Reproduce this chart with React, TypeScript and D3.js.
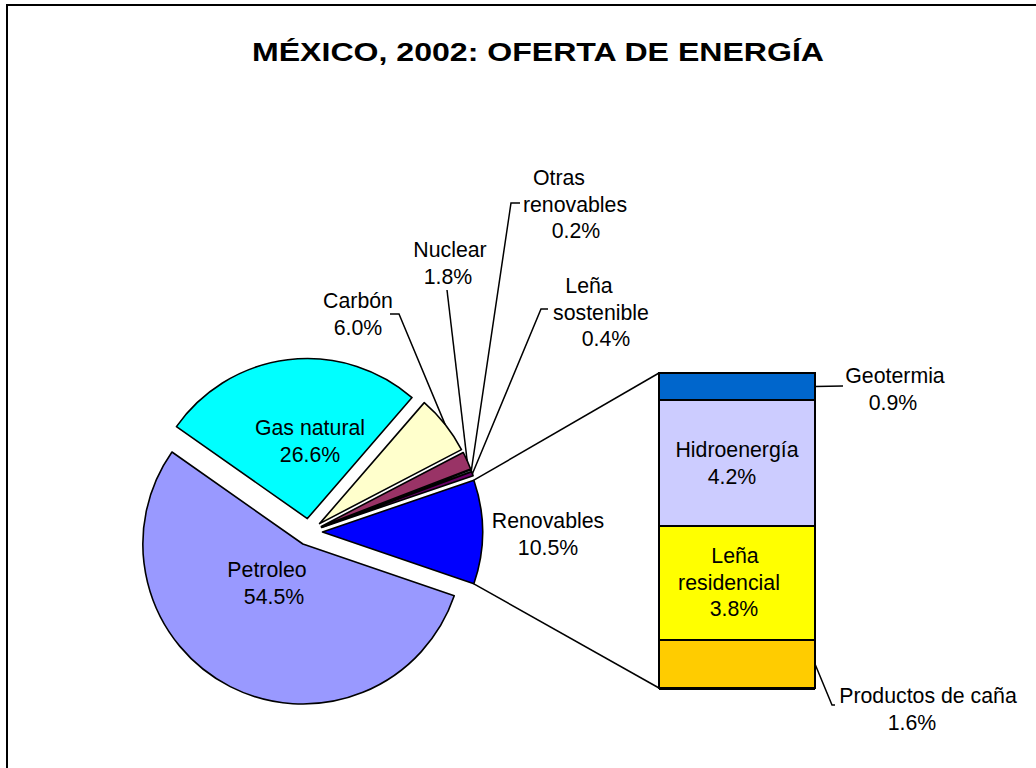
import React from "react";
import * as d3 from "d3";

// ---- data ----
const title = "MÉXICO, 2002: OFERTA DE ENERGÍA";
const pieNames = ["Petroleo", "Gas natural", "Carbón", "Nuclear", "Otras renovables", "Leña sostenible", "Renovables"];
const pieValues = [54.5, 26.6, 6.0, 1.8, 0.2, 0.4, 10.5];
const pieColors = ["#9999FF", "#00FFFF", "#FFFFCC", "#993366", "#CCFFFF", "#660066", "#0000FF"];
const barNames = ["Geotermia", "Hidroenergía", "Leña residencial", "Productos de caña"];
const barValues = [0.9, 4.2, 3.8, 1.6];
const barColors = ["#0066CC", "#CCCCFF", "#FFFF00", "#FFCC00"];

// ---- layout ----
const FONT = "'Liberation Sans', Arial, Helvetica, sans-serif";
const FS = 21.3;
const LH = 26.7;
const CX = 309, CY = 532, R = 160, EXPLODE = 13.5;
const BAR = { x0: 659, x1: 815, y0: 373, y1: 688 };

type LabelLayout = { lines: string[]; xs: number[]; y: number; leader?: [number, number][] };
const labelLayout: Record<string, LabelLayout> = {
  "Petroleo": { lines: ["Petroleo"], xs: [267, 274], y: 577 },
  "Gas natural": { lines: ["Gas natural"], xs: [310, 310], y: 435 },
  "Carbón": { lines: ["Carbón"], xs: [358, 358], y: 308, leader: [[390, 314], [399, 314]] },
  "Nuclear": { lines: ["Nuclear"], xs: [450, 448], y: 257, leader: [[447, 290]] },
  "Otras renovables": { lines: ["Otras", "renovables"], xs: [559, 575, 576], y: 185, leader: [[520, 203], [511, 203]] },
  "Leña sostenible": { lines: ["Leña", "sostenible"], xs: [589, 601, 606], y: 293, leader: [[548, 309], [541, 309]] },
  "Renovables": { lines: ["Renovables"], xs: [548, 548], y: 528 },
  "Geotermia": { lines: ["Geotermia"], xs: [895, 893], y: 383, leader: [[843, 386]] },
  "Hidroenergía": { lines: ["Hidroenergía"], xs: [737, 732], y: 457 },
  "Leña residencial": { lines: ["Leña", "residencial"], xs: [735, 729, 734], y: 563 },
  "Productos de caña": { lines: ["Productos de caña"], xs: [928, 912], y: 703, leader: [[832, 705], [835, 705]] },
};

function Label({ name, value }: { name: string; value: number }) {
  const L = labelLayout[name];
  const all = [...L.lines, `${value.toFixed(1)}%`];
  return (
    <g>
      {all.map((t, i) => (
        <text key={i} x={L.xs[i]} y={L.y + i * LH} textAnchor="middle" fontFamily={FONT} fontSize={FS} fill="#000">
          {t}
        </text>
      ))}
    </g>
  );
}

export default function App() {
  const total = d3.sum(pieValues);
  const renovShare = pieValues[pieValues.length - 1] / total;
  const start = Math.PI / 2 + renovShare * Math.PI;
  const pie = d3.pie<number>().sort(null).value((d) => d).startAngle(start).endAngle(start + 2 * Math.PI);
  const arcs = pie(pieValues);
  const arcGen = d3.arc<d3.PieArcDatum<number>>().innerRadius(0).outerRadius(R);

  const centerOf = (a: d3.PieArcDatum<number>) => {
    const mid = (a.startAngle + a.endAngle) / 2;
    return [CX + Math.sin(mid) * EXPLODE, CY - Math.cos(mid) * EXPLODE];
  };
  const arcPoint = (a: d3.PieArcDatum<number>, ang: number) => {
    const [cx, cy] = centerOf(a);
    return [cx + Math.sin(ang) * R, cy - Math.cos(ang) * R];
  };

  const renovArc = arcs[arcs.length - 1];
  const upper = arcPoint(renovArc, renovArc.startAngle);
  const lower = arcPoint(renovArc, renovArc.endAngle);

  const barTotal = d3.sum(barValues);
  const yScale = d3.scaleLinear().domain([0, barTotal]).range([BAR.y0, BAR.y1]);
  const cum = barValues.map((_, i) => d3.sum(barValues.slice(0, i)));

  return (
    <svg width={1036} height={768} style={{ position: "absolute", left: 0, top: 0, background: "#fff" }}>
      <rect x={7} y={5} width={1200} height={900} fill="#fff" stroke="#000" strokeWidth={2} />
      <text x={252} y={61} fontFamily={FONT} fontSize={25} fontWeight="bold" textLength={572} lengthAdjust="spacingAndGlyphs">
        {title}
      </text>

      {/* connectors from Renovables slice to bar */}
      <line x1={upper[0]} y1={upper[1]} x2={BAR.x0} y2={BAR.y0} stroke="#000" strokeWidth={1.5} />
      <line x1={lower[0]} y1={lower[1]} x2={BAR.x0} y2={BAR.y1} stroke="#000" strokeWidth={1.5} />

      {/* pie slices */}
      {arcs.map((a, i) => {
        const [cx, cy] = centerOf(a);
        return (
          <path key={i} d={arcGen(a) || ""} transform={`translate(${cx},${cy})`} fill={pieColors[i]} stroke="#000" strokeWidth={1.6} strokeLinejoin="round" />
        );
      })}

      {/* pie leaders */}
      {arcs.map((a, i) => {
        const L = labelLayout[pieNames[i]];
        if (!L.leader) return null;
        const mid = (a.startAngle + a.endAngle) / 2;
        const end = arcPoint(a, mid);
        const pts = [...L.leader, end];
        return <polyline key={i} points={pts.map((p) => p.join(",")).join(" ")} fill="none" stroke="#000" strokeWidth={1.5} />;
      })}

      {/* bar segments */}
      {barValues.map((v, i) => (
        <rect key={i} x={BAR.x0} y={yScale(cum[i])} width={BAR.x1 - BAR.x0} height={yScale(cum[i] + v) - yScale(cum[i])} fill={barColors[i]} stroke="#000" strokeWidth={2} />
      ))}
      <line x1={BAR.x0} y1={BAR.y1 + 1} x2={BAR.x1} y2={BAR.y1 + 1} stroke="#000" strokeWidth={2} />

      {/* bar leaders */}
      {barValues.map((v, i) => {
        const L = labelLayout[barNames[i]];
        if (!L.leader) return null;
        const ym = yScale(cum[i] + v / 2);
        const pts = [[BAR.x1, ym], ...L.leader];
        return <polyline key={i} points={pts.map((p) => p.join(",")).join(" ")} fill="none" stroke="#000" strokeWidth={1.5} />;
      })}

      {/* labels */}
      {pieNames.map((n, i) => (
        <Label key={n} name={n} value={pieValues[i]} />
      ))}
      {barNames.map((n, i) => (
        <Label key={n} name={n} value={barValues[i]} />
      ))}
    </svg>
  );
}
